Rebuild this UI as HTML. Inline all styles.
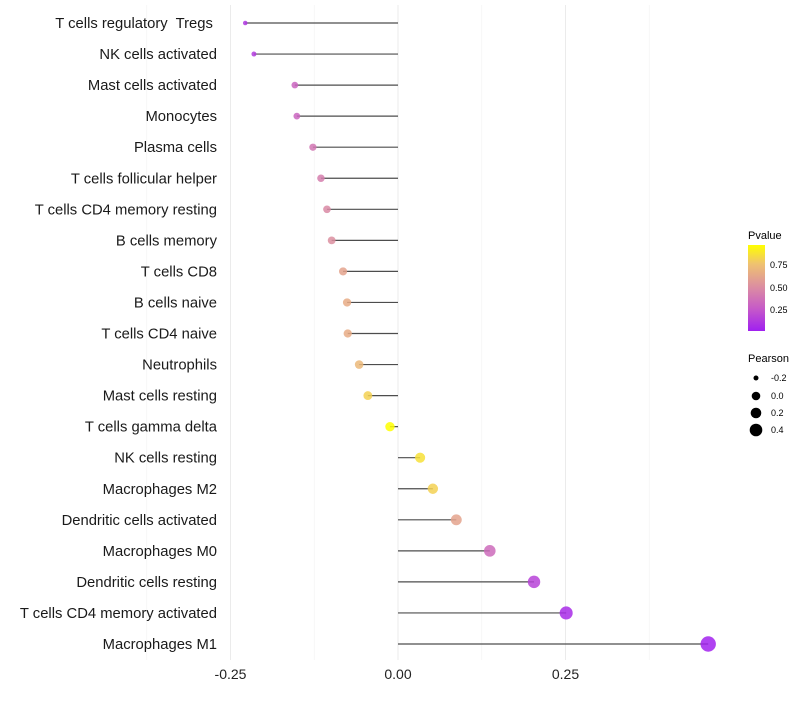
<!DOCTYPE html>
<html><head><meta charset="utf-8"><style>
body{margin:0;background:#fff}
svg{font-family:"Liberation Sans",sans-serif}
#labels text{white-space:pre}
</style></head><body>
<svg id="chart" width="800" height="700">
<defs><linearGradient id="pg" x1="0" y1="1" x2="0" y2="0">
<stop offset="0" stop-color="#a020f0"/><stop offset="0.26" stop-color="#c65ac8"/>
<stop offset="0.52" stop-color="#dc8fa0"/><stop offset="0.78" stop-color="#efc270"/>
<stop offset="1" stop-color="#ffff00"/></linearGradient></defs>
<g id="grid"></g><g id="marks"></g><g id="labels"></g>
<g>
<text x="748" y="239" font-size="11">Pvalue</text>
<rect x="748" y="245" width="17" height="86" fill="url(#pg)"/>
<text x="770" y="268" font-size="9">0.75</text>
<text x="770" y="291" font-size="9">0.50</text>
<text x="770" y="313" font-size="9">0.25</text>
</g>
<g>
<text x="748" y="362" font-size="11">Pearson</text>
<circle cx="756" cy="378" r="2.5"/><text x="771" y="381" font-size="9">-0.2</text>
<circle cx="756" cy="396" r="4.3"/><text x="771" y="399" font-size="9">0.0</text>
<circle cx="756" cy="413" r="5.3"/><text x="771" y="416" font-size="9">0.2</text>
<circle cx="756" cy="430" r="6.3"/><text x="771" y="433" font-size="9">0.4</text>
</g>
</svg>
<script>
const categories=["T cells regulatory  Tregs ","NK cells activated","Mast cells activated","Monocytes","Plasma cells","T cells follicular helper","T cells CD4 memory resting","B cells memory","T cells CD8","B cells naive","T cells CD4 naive","Neutrophils","Mast cells resting","T cells gamma delta","NK cells resting","Macrophages M2","Dendritic cells activated","Macrophages M0","Dendritic cells resting","T cells CD4 memory activated","Macrophages M1"];
const pearson=[-0.228,-0.215,-0.154,-0.151,-0.127,-0.115,-0.106,-0.099,-0.082,-0.076,-0.075,-0.058,-0.045,-0.012,0.033,0.052,0.087,0.137,0.203,0.251,0.463];
const pvalues=[0.1,0.12,0.3,0.3,0.38,0.42,0.47,0.5,0.6,0.64,0.64,0.7,0.8,0.95,0.85,0.8,0.6,0.33,0.15,0.05,0.01];
const ticks=[-0.25,0,0.25];
const tickLabels=["-0.25","0.00","0.25"];
const NS="http://www.w3.org/2000/svg";
const xS=v=>398+v*670;
const yS=i=>23+i*31.05;
const stops=[[0,[160,32,240]],[0.25,[198,90,200]],[0.5,[220,143,160]],[0.75,[239,194,112]],[0.95,[255,255,0]]];
function col(p){p=Math.max(0,Math.min(0.95,p));for(let k=1;k<stops.length;k++){if(p<=stops[k][0]){const a=stops[k-1],b=stops[k],t=(p-a[0])/(b[0]-a[0]);return "rgb("+a[1].map((c,j)=>Math.round(c+(b[1][j]-c)*t)).join(",")+")";}}return "rgb(255,255,0)";}
const rS=v=>Math.max(1.5,Math.sqrt(Math.max(0,23+v*78)));
function mk(t,a,parent){const e=document.createElementNS(NS,t);for(const k in a)e.setAttribute(k,a[k]);document.getElementById(parent).appendChild(e);return e;}
[-0.375,-0.125,0.125,0.375].forEach(v=>{const l=mk("line",{x1:xS(v),x2:xS(v),y1:5,y2:660,stroke:"#f3f3f3","stroke-width":0.6},"grid");

});
ticks.forEach((v,i)=>{const l=mk("line",{x1:xS(v),x2:xS(v),y1:5,y2:660,stroke:"#ebebeb","stroke-width":1},"grid");


const t=mk("text",{x:xS(v),y:679,"font-size":14,"text-anchor":"middle",fill:"#222"},"labels");t.textContent=tickLabels[i];

});
categories.forEach((c,i)=>{const y=yS(i);
const t=mk("text",{x:217,y:y+5,"font-size":14.8,"text-anchor":"end",fill:"#1a1a1a"},"labels");t.textContent=c;


const l=mk("line",{x1:xS(0),x2:xS(pearson[i]),y1:y,y2:y,stroke:"#4d4d4d","stroke-width":1.2},"marks");


const d=mk("circle",{cx:xS(pearson[i]),cy:y,r:rS(pearson[i]),fill:col(pvalues[i]),"fill-opacity":0.85},"marks");

});
</script>
</body></html>
